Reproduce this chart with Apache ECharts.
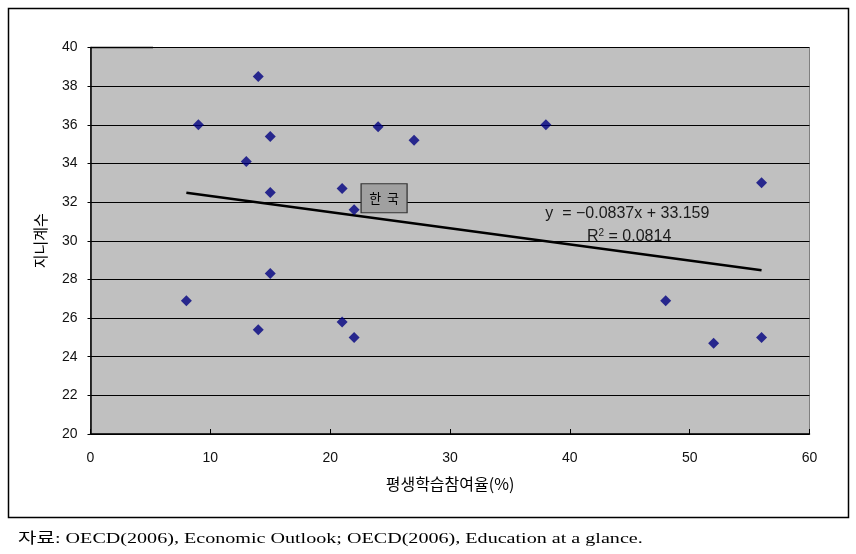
<!DOCTYPE html>
<html>
<head>
<meta charset="utf-8">
<script src="https://cdn.jsdelivr.net/npm/echarts@6/dist/echarts.min.js"></script>
<style>
html,body{margin:0;padding:0;background:#fff;}
#main{width:856px;height:554px;}
</style>
</head>
<body>
<div id="main"></div>
<script>
// Data
var lifelongLearning = [14, 9, 15, 24, 27, 38, 13, 15, 21, 22, 56, 15, 8, 14, 21, 22, 48, 52, 56];
var giniIndex        = [38.5, 36.0, 35.4, 35.9, 35.2, 36.0, 34.1, 32.5, 32.7, 31.6, 33.0, 28.3, 26.9, 25.4, 25.8, 25.0, 26.9, 24.7, 25.0];
var trendSlope = -0.0837;
var trendIntercept = 33.159;
var trendR2 = 0.0814;
var xTicks = [0, 10, 20, 30, 40, 50, 60];
var yTicks = [20, 22, 24, 26, 28, 30, 32, 34, 36, 38, 40];
var koreaLabelPos = [24.5, 32.2];
var eqLabelPos = [44.8, 31.43];
var r2LabelPos = [44.95, 30.19];

var points = lifelongLearning.map(function (x, i) { return [x, giniIndex[i]]; });
var xMinData = Math.min.apply(null, lifelongLearning);
var xMaxData = Math.max.apply(null, lifelongLearning);
var trendData = [
  [xMinData, trendIntercept + trendSlope * xMinData],
  [xMaxData, trendIntercept + trendSlope * xMaxData]
];

var sans = 'Liberation Sans, Arial, sans-serif';
var kr = 'Noto Sans CJK KR, sans-serif';

var chart = echarts.init(document.getElementById('main'), null, {renderer: 'canvas'});
chart.setOption({
  animation: false,
  backgroundColor: '#fff',
  grid: {
    left: 90.5, right: 46.5, top: 47.5, bottom: 120,
    show: true, backgroundColor: '#c0c0c0', borderColor: '#808080', borderWidth: 1
  },
  graphic: [
    {type: 'rect', shape: {x: 8.5, y: 8.5, width: 840, height: 509}, style: {fill: 'none', stroke: '#000', lineWidth: 1.5}, z: -1},
    {type: 'line', shape: {x1: 90.5, y1: 47.5, x2: 153, y2: 47.5}, style: {stroke: '#000', lineWidth: 1.5}, z: 10},
    {type: 'text', x: 18, y: 532, scaleX: 1.34, originX: 0, style: {
      text: '자료: OECD(2006), Economic Outlook; OECD(2006), Education at a glance.',
      fill: '#000', font: '15px "Liberation Serif", "Noto Sans CJK KR", serif'
    }}
  ],
  xAxis: {
    type: 'value', min: xTicks[0], max: xTicks[xTicks.length - 1], interval: 10,
    name: '평생학습참여율(%)', nameLocation: 'middle', nameGap: 42,
    nameTextStyle: {fontFamily: kr, fontSize: 16, color: '#000'},
    axisLine: {show: true, lineStyle: {color: '#000', width: 1.5}},
    axisTick: {show: true, inside: true, length: 5, lineStyle: {color: '#000'}},
    axisLabel: {margin: 17, fontFamily: sans, fontSize: 14, color: '#111'},
    splitLine: {show: false}
  },
  yAxis: {
    type: 'value', min: yTicks[0], max: yTicks[yTicks.length - 1], interval: 2,
    name: '지니계수', nameLocation: 'middle', nameGap: 43, nameRotate: 90,
    nameTextStyle: {fontFamily: kr, fontSize: 15, color: '#000'},
    axisLine: {show: true, lineStyle: {color: '#000', width: 1.5}},
    axisTick: {show: true, inside: false, length: 3, lineStyle: {color: '#000'}},
    axisLabel: {margin: 13, fontFamily: sans, fontSize: 14, color: '#111'},
    splitLine: {show: true, lineStyle: {color: '#000', width: 1}}
  },
  series: [
    {
      type: 'line', data: trendData, symbol: 'none', silent: true,
      lineStyle: {color: '#000', width: 2.5}, z: 2,
      markPoint: {
        symbol: 'rect', symbolSize: 0, silent: true,
        data: [
          {coord: eqLabelPos, label: {show: true, formatter: 'y  = \u22120.0837x + 33.159', position: 'inside', fontFamily: sans, fontSize: 16, color: '#1a1a1a'}},
          {coord: r2LabelPos, label: {show: true, formatter: 'R{s|2} = ' + trendR2, position: 'inside', fontFamily: sans, fontSize: 16, color: '#1a1a1a',
            rich: {s: {fontSize: 10, verticalAlign: 'top', padding: [0, 0, 8, 0], fontFamily: sans, color: '#1a1a1a'}}}}
        ]
      }
    },
    {
      type: 'scatter', data: points, symbol: 'diamond', symbolSize: 11,
      itemStyle: {color: '#000080'}, z: 3,
      markPoint: {
        symbol: 'rect', symbolSize: [46, 29], silent: true,
        itemStyle: {color: '#a0a0a0', borderColor: '#333', borderWidth: 1},
        label: {show: true, position: 'inside', formatter: '한  국', fontFamily: kr, fontSize: 13, color: '#000'},
        data: [{coord: koreaLabelPos}]
      }
    }
  ]
});
</script>
</body>
</html>
